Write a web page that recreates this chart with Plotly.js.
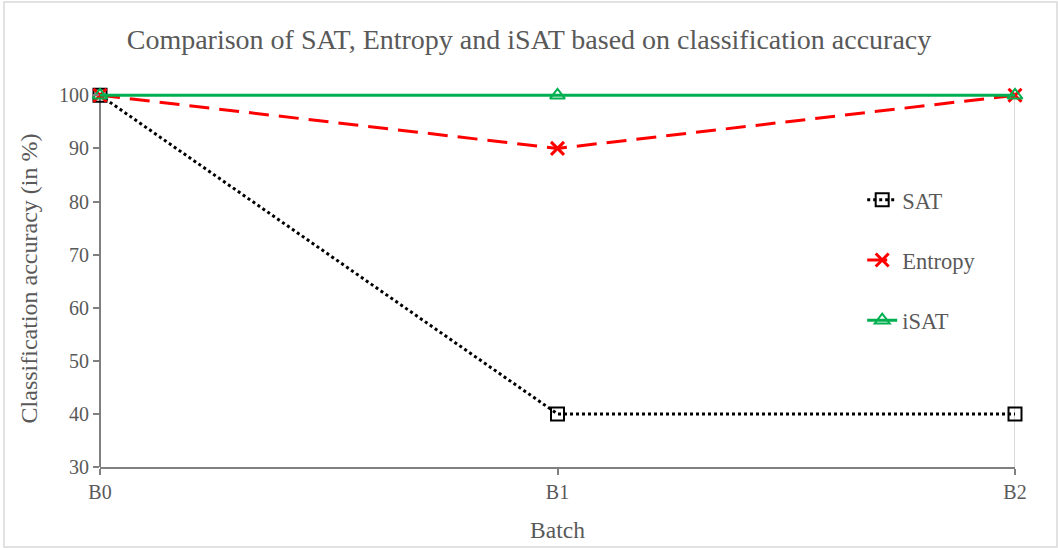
<!DOCTYPE html>
<html>
<head>
<meta charset="utf-8">
<script src="https://cdn.plot.ly/plotly-3.0.1.min.js"></script>
<style>html,body{margin:0;padding:0;background:#fff;}#chart{width:1058px;height:548px;}</style>
</head>
<body>
<div id="chart"></div>
<script>
const batches = ["B0", "B1", "B2"];
const satValues = [100, 40, 40];
const entropyValues = [100, 90, 100];
const isatValues = [100, 100, 100];
const yTicks = [30, 40, 50, 60, 70, 80, 90, 100];
const yMin = 30, yMax = 100;

const font = "Liberation Serif";
const txt = "#595959";

const traces = [
  {x: batches, y: satValues, name: "SAT", mode: "lines+markers", legendgroup: "a",
   line: {color: "#000000", width: 3, dash: "dot"},
   marker: {symbol: "square-open", size: 13, color: "#000000", line: {width: 2, color: "#000000"}},
   cliponaxis: false},
  {x: batches, y: entropyValues, name: "Entropy", mode: "lines+markers", legendgroup: "b",
   line: {color: "#FF0000", width: 3, dash: "20px,10px"},
   marker: {symbol: "x-thin-open", size: 13, color: "#FF0000", line: {width: 3, color: "#FF0000"}},
   cliponaxis: false},
  {x: batches, y: isatValues, name: "iSAT", mode: "lines+markers", legendgroup: "c",
   line: {color: "#00B050", width: 3},
   marker: {symbol: "triangle-up-open", size: 13, color: "#00B050", line: {width: 2, color: "#00B050"}},
   cliponaxis: false}
];

const layout = {
  width: 1058, height: 548,
  margin: {l: 100, r: 43, t: 90, b: 81},
  paper_bgcolor: "#ffffff", plot_bgcolor: "#ffffff",
  font: {family: font, color: txt, size: 20},
  title: {text: "Comparison of SAT, Entropy and iSAT based on classification accuracy",
          font: {family: font, size: 28, color: txt}, x: 0.5, xanchor: "center", y: 0.928, yanchor: "middle"},
  xaxis: {
    type: "category", range: [0, 2], showgrid: false, zeroline: false,
    showline: true, linecolor: "#808080", linewidth: 2,
    ticks: "outside", ticklen: 6, tickwidth: 2, tickcolor: "#808080",
    tickfont: {family: font, size: 20, color: txt},
    title: {text: "Batch", font: {family: font, size: 23.5, color: txt}, standoff: 20}
  },
  yaxis: {
    range: [yMin, 101], tickvals: yTicks, showgrid: false, zeroline: false,
    showline: false,
    ticks: "outside", ticklen: 6, tickwidth: 2, tickcolor: "#808080",
    tickfont: {family: font, size: 20, color: txt},
    title: {text: "Classification accuracy (in %)", font: {family: font, size: 24, color: txt}, standoff: 14}
  },
  legend: {x: 0.833, y: 0.765, xanchor: "left", yanchor: "top", tracegroupgap: 28,
           font: {family: font, size: 22.5, color: txt}, bgcolor: "rgba(0,0,0,0)"},
  shapes: [
    {type: "line", xref: "paper", yref: "y", x0: 0, x1: 0, y0: yMin, y1: yMax,
     line: {color: "#808080", width: 2}, layer: "below"},
    {type: "line", xref: "x", yref: "y", x0: batches[2], x1: batches[2], y0: yMin, y1: yMax,
     line: {color: "#D9D9D9", width: 2}, layer: "below"},
    {type: "rect", xref: "paper", yref: "paper", x0: -96/915, x1: 1 + 42/915, y0: -80/377, y1: 1 + 88/377,
     line: {color: "#D9D9D9", width: 1.5}}
  ]
};

Plotly.newPlot("chart", traces, layout, {displayModeBar: false, staticPlot: true});
</script>
</body>
</html>
